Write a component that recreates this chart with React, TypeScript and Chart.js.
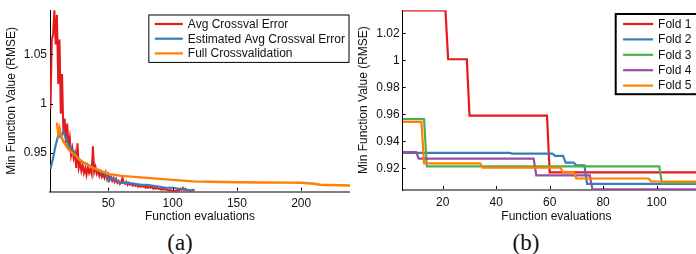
import { useEffect, useRef } from "react";
import { Chart, registerables } from "chart.js";

Chart.register(...registerables);

const FONT = "'Liberation Sans', Arial, Helvetica, sans-serif";

// ---------- Panel (a) data ----------
const avgErrFirstEval = 5;
const avgErrValues = [
  0.995, 1.065, 1.07, 1.095, 1.06, 1.09, 1.02, 1.065, 0.99, 1.03,
  0.97, 0.985, 0.96, 0.98, 0.955, 0.965, 0.948, 0.955, 0.945, 0.95,
  0.935, 0.96, 0.935, 0.94, 0.932, 0.938, 0.93, 0.935, 0.928, 0.936,
  0.93, 0.934, 0.929, 0.957, 0.931, 0.936, 0.929, 0.932, 0.927, 0.931,
  0.926, 0.929, 0.925, 0.93, 0.924, 0.928, 0.923, 0.926, 0.922, 0.925,
  0.921, 0.924, 0.92, 0.922, 0.919, 0.921, 0.925, 0.92, 0.919, 0.921,
  0.918, 0.92, 0.918, 0.919, 0.917, 0.919, 0.917, 0.918, 0.916, 0.918,
  0.916, 0.917, 0.916, 0.917, 0.915, 0.916, 0.915, 0.916, 0.915, 0.916,
  0.914, 0.915, 0.914, 0.915, 0.914, 0.914, 0.913, 0.914, 0.913, 0.914,
  0.913, 0.913, 0.912, 0.913, 0.912, 0.912, 0.911, 0.912, 0.912, 0.913,
  0.912, 0.914, 0.913, 0.915, 0.913, 0.914, 0.912, 0.913, 0.912, 0.912,
  0.912, 0.913, 0.912,
];
const estEvals = [5, 7, 9, 11, 13, 15, 17, 19, 21, 23, 25, 27, 30, 33, 36, 40, 44, 48, 50, 52, 55, 58, 60, 65, 70, 75, 80, 85, 90, 95, 100, 105, 110, 117];
const estValues = [0.934, 0.945, 0.958, 0.968, 0.966, 0.972, 0.965, 0.958, 0.955, 0.951, 0.947, 0.944, 0.941, 0.939, 0.937, 0.934, 0.931, 0.929, 0.922, 0.925, 0.923, 0.921, 0.92, 0.92, 0.919, 0.918, 0.918, 0.917, 0.916, 0.915, 0.915, 0.914, 0.913, 0.912];
const fullEvals = [10, 11, 12, 13, 14, 15, 17, 19, 21, 24, 27, 30, 34, 38, 42, 46, 50, 55, 60, 70, 80, 90, 100, 116, 130, 150, 170, 190, 200, 210, 215, 220, 230, 238];
const fullValues = [0.981, 0.97, 0.975, 0.968, 0.965, 0.962, 0.958, 0.954, 0.951, 0.948, 0.944, 0.941, 0.938, 0.935, 0.933, 0.931, 0.929, 0.928, 0.927, 0.926, 0.925, 0.924, 0.923, 0.9215, 0.921, 0.9205, 0.9203, 0.9202, 0.92, 0.919, 0.918, 0.9178, 0.9175, 0.9172];

const aXTicks = [50, 100, 150, 200];
const aYTicks = [0.95, 1, 1.05];

// ---------- Panel (b) data ----------
const fold1Evals = [5, 21, 22, 29, 30, 59, 60, 120];
const fold1Values = [1.037, 1.037, 1.0008, 1.0008, 0.959, 0.959, 0.917, 0.917];
const fold2Evals = [5, 45, 46, 61, 62, 65, 66, 69, 70, 73, 74, 120];
const fold2Values = [0.9315, 0.9315, 0.931, 0.931, 0.9293, 0.9293, 0.9242, 0.9242, 0.9223, 0.9223, 0.9085, 0.9085];
const fold3Evals = [5, 13, 14, 101, 102, 120];
const fold3Values = [0.9565, 0.9565, 0.9215, 0.9215, 0.909, 0.909];
const fold4Evals = [5, 10, 11, 54, 55, 75, 76, 120];
const fold4Values = [0.932, 0.932, 0.9272, 0.9272, 0.9148, 0.9148, 0.9045, 0.9045];
const fold5Evals = [5, 12, 13, 34, 35, 64, 65, 69, 70, 97, 98, 120];
const fold5Values = [0.9545, 0.9545, 0.9237, 0.9237, 0.9205, 0.9205, 0.917, 0.917, 0.9125, 0.9125, 0.9103, 0.9103];

const bXTicks = [20, 40, 60, 80, 100];
const bYTicks = [0.92, 0.94, 0.96, 0.98, 1, 1.02];

const RED = "#e41a1c";
const BLUE = "#377eb8";
const GREEN = "#4daf4a";
const PURPLE = "#984ea3";
const ORANGE = "#ff7f00";

const pts = (xs: number[], ys: number[]) => ys.map((y, i) => ({ x: xs[i], y }));

type LegendItem = { label: string; color: string };
type LegendOpts = {
  items: LegendItem[];
  left: (ca: any, w: number) => number;
  top: number;
  padL: number;
  sample: number;
  gap: number;
  padR: number;
  padT: number;
  padB: number;
  rowH: number;
  border: number;
};

function framePlugin(lg: LegendOpts) {
  return {
    id: "frameLegend",
    afterDraw(chart: any) {
      const { ctx, chartArea: ca, scales } = chart;
      ctx.save();
      // inward tick marks
      ctx.strokeStyle = "#000";
      ctx.lineWidth = 1;
      scales.x.ticks.forEach((t: any) => {
        const px = Math.round(scales.x.getPixelForValue(t.value)) + 0.5;
        ctx.beginPath();
        ctx.moveTo(px, ca.bottom - 1);
        ctx.lineTo(px, ca.bottom - 4);
        ctx.stroke();
      });
      scales.y.ticks.forEach((t: any) => {
        const py = Math.round(scales.y.getPixelForValue(t.value)) + 0.5;
        ctx.beginPath();
        ctx.moveTo(ca.left, py);
        ctx.lineTo(ca.left + 3, py);
        ctx.stroke();
      });
      // legend box
      ctx.font = `12px ${FONT}`;
      const textW = Math.max(...lg.items.map((it) => ctx.measureText(it.label).width));
      const w = lg.padL + lg.sample + lg.gap + textW + lg.padR;
      const h = lg.padT + (lg.items.length - 1) * lg.rowH + lg.padB;
      const x0 = lg.left(ca, w);
      const y0 = lg.top;
      ctx.fillStyle = "#fff";
      ctx.fillRect(x0, y0, w, h);
      ctx.strokeStyle = "#000";
      ctx.lineWidth = lg.border;
      ctx.strokeRect(x0, y0, w, h);
      ctx.textBaseline = "middle";
      ctx.textAlign = "left";
      lg.items.forEach((it, i) => {
        const y = y0 + lg.padT + i * lg.rowH;
        ctx.strokeStyle = it.color;
        ctx.lineWidth = 2.2;
        ctx.beginPath();
        ctx.moveTo(x0 + lg.padL, y);
        ctx.lineTo(x0 + lg.padL + lg.sample, y);
        ctx.stroke();
        ctx.fillStyle = "#111";
        ctx.fillText(it.label, x0 + lg.padL + lg.sample + lg.gap, y + 0.5);
      });
      ctx.restore();
    },
  };
}

const fmt = (v: any) => String(+Number(v).toFixed(3));

function makeScales(o: {
  xmin: number; xmax: number; ymin: number; ymax: number;
  xt: number[]; yt: number[]; xh: number; yw: number;
}) {
  const font = { family: FONT, size: 12 };
  return {
    x: {
      type: "linear" as const,
      min: o.xmin,
      max: o.xmax,
      afterBuildTicks: (s: any) => { s.ticks = o.xt.map((v) => ({ value: v })); },
      afterFit: (s: any) => { s.height = o.xh; },
      grid: { display: false, drawTicks: false },
      border: { display: true, color: "#7f7f7f", width: 2 },
      ticks: { padding: 5, color: "#111", font, maxRotation: 0, autoSkip: false, callback: fmt },
      title: { display: true, text: "Function evaluations", color: "#111", font, padding: { top: 2, bottom: 2 } },
    },
    y: {
      type: "linear" as const,
      min: o.ymin,
      max: o.ymax,
      afterBuildTicks: (s: any) => { s.ticks = o.yt.map((v) => ({ value: v })); },
      afterFit: (s: any) => { s.width = o.yw; },
      grid: { display: false, drawTicks: false },
      border: { display: true, color: "#000", width: 1 },
      ticks: { padding: 3, color: "#111", font, autoSkip: false, callback: fmt },
      title: { display: true, text: "Min Function Value (RMSE)", color: "#111", font, padding: { top: 4, bottom: 4 } },
    },
  };
}

const line = (label: string, color: string, data: any[], width = 2) => ({
  label,
  data,
  borderColor: color,
  backgroundColor: color,
  borderWidth: width,
  pointRadius: 0,
  tension: 0,
  fill: false,
});

export default function App() {
  const refA = useRef<HTMLCanvasElement>(null);
  const refB = useRef<HTMLCanvasElement>(null);

  useEffect(() => {
    const avgErr = avgErrValues.map((y, i) => ({ x: avgErrFirstEval + i, y }));
    const chartA = new Chart(refA.current!, {
      type: "line",
      data: {
        datasets: [
          line("Full Crossvalidation", ORANGE, pts(fullEvals, fullValues), 2.4),
          line("Estimated Avg Crossval Error", BLUE, pts(estEvals, estValues), 2.2),
          line("Avg Crossval Error", RED, avgErr, 2),
        ],
      },
      options: {
        responsive: false,
        animation: false,
        layout: { padding: { top: 10, left: 0, right: 0, bottom: 0 } },
        plugins: { legend: { display: false }, tooltip: { enabled: false } },
        scales: makeScales({ xmin: 4.6, xmax: 238, ymin: 0.911, ymax: 1.0947, xt: aXTicks, yt: aYTicks, xh: 34.3, yw: 50 }),
      },
      plugins: [
        framePlugin({
          items: [
            { label: "Avg Crossval Error", color: RED },
            { label: "Estimated Avg Crossval Error", color: BLUE },
            { label: "Full Crossvalidation", color: ORANGE },
          ],
          left: (ca, w) => ca.right - 1 - w,
          top: 15,
          padL: 6, sample: 28, gap: 5, padR: 4,
          padT: 9, padB: 9, rowH: 14.7, border: 1,
        }),
      ],
    });

    const chartB = new Chart(refB.current!, {
      type: "line",
      data: {
        datasets: [
          line("Fold 5", ORANGE, pts(fold5Evals, fold5Values), 2.2),
          line("Fold 4", PURPLE, pts(fold4Evals, fold4Values), 2.2),
          line("Fold 3", GREEN, pts(fold3Evals, fold3Values), 2.2),
          line("Fold 2", BLUE, pts(fold2Evals, fold2Values), 2.2),
          line("Fold 1", RED, pts(fold1Evals, fold1Values), 2.2),
        ],
      },
      options: {
        responsive: false,
        animation: false,
        layout: { padding: { top: 9, left: 0, right: 0, bottom: 0 } },
        plugins: { legend: { display: false }, tooltip: { enabled: false } },
        scales: makeScales({ xmin: 5, xmax: 120, ymin: 0.904, ymax: 1.0371, xt: bXTicks, yt: bYTicks, xh: 36, yw: 50.7 }),
      },
      plugins: [
        framePlugin({
          items: [
            { label: "Fold 1", color: RED },
            { label: "Fold 2", color: BLUE },
            { label: "Fold 3", color: GREEN },
            { label: "Fold 4", color: PURPLE },
            { label: "Fold 5", color: ORANGE },
          ],
          left: (ca) => ca.left + 213,
          top: 14,
          padL: 7.4, sample: 30, gap: 5, padR: 40,
          padT: 10, padB: 8.6, rowH: 15.4, border: 2,
        }),
      ],
    });

    return () => {
      chartA.destroy();
      chartB.destroy();
    };
  }, []);

  const caption = {
    position: "absolute" as const,
    top: 229,
    width: 360,
    textAlign: "center" as const,
    fontFamily: "'Liberation Serif', 'Times New Roman', serif",
    fontSize: 23,
    lineHeight: "28px",
    color: "#111",
  };

  return (
    <div style={{ position: "fixed", left: 0, top: 0, width: 696, height: 254, overflow: "hidden", background: "#fff" }}>
      <canvas ref={refA} width={350} height={226} style={{ position: "absolute", left: 0, top: 0 }} />
      <canvas ref={refB} width={358} height={226} style={{ position: "absolute", left: 352, top: 0 }} />
      <div style={{ ...caption, left: 0 }}>(a)</div>
      <div style={{ ...caption, left: 346 }}>(b)</div>
    </div>
  );
}
